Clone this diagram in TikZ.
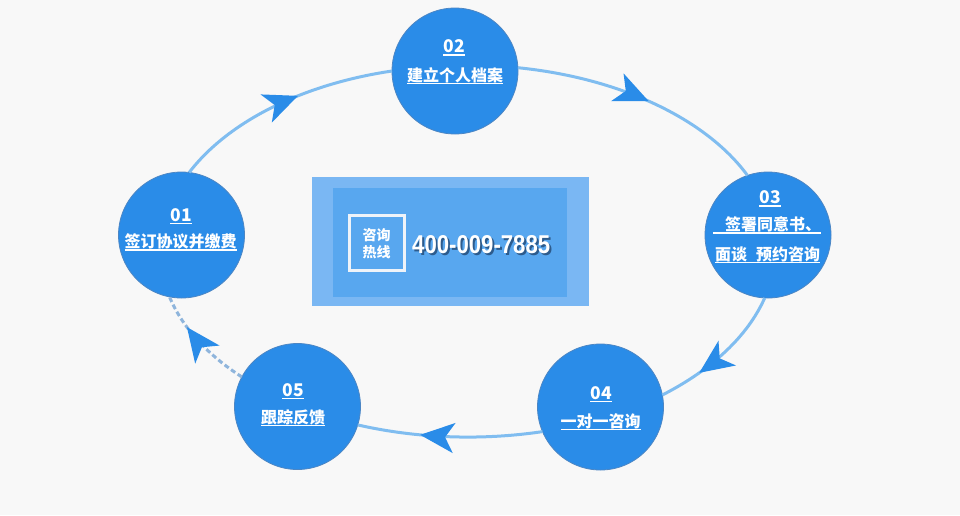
\documentclass[tikz,border=0pt]{standalone}
\usepackage{fontspec}
\newfontfamily\cjk{Noto Sans CJK SC}
\newfontfamily\numfont{Liberation Sans}
\usetikzlibrary{arrows.meta,decorations.markings}
\definecolor{bgc}{HTML}{F8F8F8}
\definecolor{circ}{HTML}{2A8CE8}
\definecolor{circedge}{HTML}{4C86C4}
\definecolor{linec}{HTML}{80BDF0}
\definecolor{dashc}{HTML}{8FB5DC}
\definecolor{outerc}{HTML}{7AB7F3}
\definecolor{innerc}{HTML}{58A7EF}
\definecolor{sqc}{HTML}{EEF3F9}
\definecolor{shadowc}{HTML}{1A3A62}
\newcommand\ulx[1]{\sbox0{#1}\rlap{\rule[-3pt]{\wd0}{1.4pt}}\usebox0}
\newcommand\phonenum{\resizebox{138pt}{18pt}{400-009-7885}}
\newcommand\shadowed[1]{\rlap{\hspace{2pt}\raisebox{-2pt}{\color{shadowc!70!innerc}#1}}#1}
\tikzset{
  stage/.style={circle, fill=circ, draw=circedge, line width=0.8pt, minimum size=126pt, inner sep=0pt, outer sep=0pt},
  numtxt/.style={text=white, font=\cjk\bfseries\fontsize{17.5}{20}\selectfont, inner sep=0pt, anchor=base},
  lbltxt/.style={text=white, font=\cjk\bfseries\fontsize{16}{19}\selectfont, inner sep=0pt, anchor=base},
  flow/.style={draw=linec, line width=3pt},
  dflow/.style={draw=dashc, line width=3pt, dash pattern=on 5pt off 3pt},
  arr/.style={postaction={decorate}, decoration={markings, mark=at position #1 with {\arrow[color=circ]{Stealth[length=34pt,width=30pt,inset=9pt]}}}},
  panel/.style={inner sep=0pt, outer sep=0pt, draw=none},
  phone/.style={anchor=west, inner sep=0pt, font=\numfont\bfseries},
}
\begin{document}
\begin{tikzpicture}[x=1pt,y=-1pt]
\fill[bgc] (0,0) rectangle (960,515);
% central hotline panel
\node[panel, fill=outerc, minimum width=277pt, minimum height=129pt] (outer) at (450.5,241.5) {};
\node[panel, fill=innerc, minimum width=234pt, minimum height=109pt] (inner) at (450,242.5) {};
\node[draw=sqc, line width=3pt, minimum size=55pt, inner sep=0pt] (sq) at (377,242.5) {};
\node[text=white, font=\cjk\bfseries\fontsize{14}{17}\selectfont, align=center, inner sep=0pt] (hl) at (376.5,243.5) {咨询\\热线};
\node[phone, text=white] (ph) at (412,246) {\shadowed{\phonenum}};
% stage circles
\node[stage] (c1) at (181.5,235) {};
\node[stage] (c2) at (455,71) {};
\node[stage] (c3) at (768,235) {};
\node[stage] (c4) at (600.5,407) {};
\node[stage] (c5) at (297.5,406.5) {};
% texts
\node[numtxt] (n1) at (181,221) {\ulx{01}};
\node[lbltxt] (t1) at (180.5,247.5) {\ulx{签订协议并缴费}};
\node[numtxt] (n2) at (454,52.5) {\ulx{02}};
\node[lbltxt] (t2) at (455,81) {\ulx{建立个人档案}};
\node[numtxt] (n3) at (770,203.5) {\ulx{03}};
\node[lbltxt] (t3a) at (767,230.5) {\ulx{\makebox[108pt][r]{签署同意书、}}};
\node[lbltxt] (t3b) at (767.5,260) {\ulx{面谈\hspace{9pt}预约咨询}};
\node[numtxt] (n4) at (601,399) {\ulx{04}};
\node[lbltxt] (t4) at (600.5,427) {\ulx{一对一咨询}};
\node[numtxt] (n5) at (293,396) {\ulx{05}};
\node[lbltxt] (t5) at (293,423) {\ulx{跟踪反馈}};
% connectors
\draw[flow, arr=0.58] (c1.83) .. controls (228.4,121.3) and (302.9,84.2) .. (c2.180);
\draw[flow, arr=0.52] (c2.3) .. controls (619.6,78.0) and (705.6,118.5) .. (c3.109);
\draw[flow, arr=0.70] (c3.267) .. controls (748.0,335.6) and (712.3,369.5) .. (c4.11);
\draw[flow, arr=0.66] (c4.203) .. controls (481.2,440.7) and (416.9,438.4) .. (c5.343);
\draw[dflow, arr=0.68] (c5.152) .. controls (207.0,354.6) and (182.1,326.9) .. (c1.259);
\end{tikzpicture}
\end{document}
